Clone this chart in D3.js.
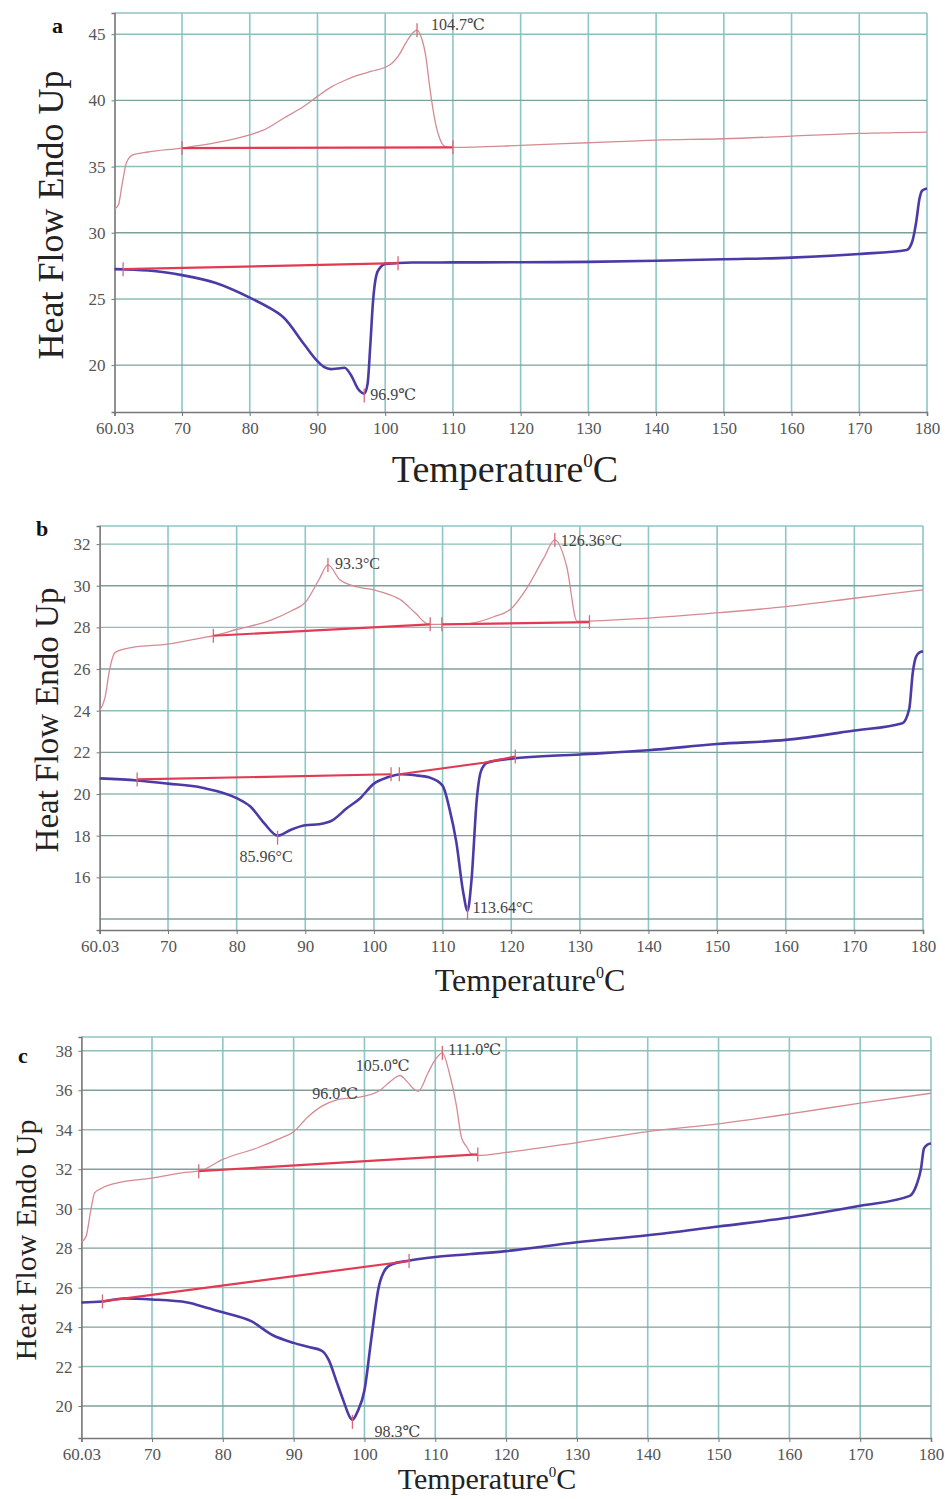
<!DOCTYPE html>
<html>
<head>
<meta charset="utf-8">
<script src="https://cdn.jsdelivr.net/npm/d3@7/dist/d3.min.js"></script>
<style>
  body { margin: 0; background: #fff; }
  svg text { font-family: "Liberation Serif", "DejaVu Serif", serif; }
</style>
</head>
<body>
<div id="chart"></div>
<script>
// x ticks shared by all three panels
var xTicks = [60.03, 70, 80, 90, 100, 110, 120, 130, 140, 150, 160, 170, 180];

// ---- panel a ----
var aTop = [[60.03,31.8],[60.6,32.1],[61.2,33.8],[61.8,35.3],[62.8,35.9],[65,36.1],[70,36.4],[75,36.8],[80,37.4],[82,37.75],
  [85,38.65],[88,39.55],[90,40.3],[92,41.0],[94,41.5],[96,41.9],[98,42.2],[100,42.5],[101,42.8],[102,43.4],[103,44.3],
  [104,45.05],[104.7,45.3],[105.3,44.8],[106,43.3],[106.5,41.3],[107,39.5],[107.5,38.1],[108,37.2],[108.6,36.6],[109.3,36.45],
  [110,36.45],[120,36.6],[130,36.8],[140,37.0],[150,37.1],[160,37.3],[170,37.5],[180,37.6]];
var aBottom = [[60.03,27.25],[65,27.15],[70,26.8],[75,26.2],[80,25.1],[83,24.3],[85,23.6],[88,21.6],[90,20.3],[91,19.85],
  [92,19.7],[93,19.75],[94,19.8],[95,19.2],[96,18.2],[96.9,17.85],[97.4,18.6],[97.8,21.5],[98.2,24.8],[98.7,26.8],[99.3,27.4],
  [100,27.65],[104,27.75],[110,27.76],[120,27.77],[130,27.8],[140,27.88],[150,28.0],[160,28.12],[170,28.4],[177,28.7],
  [177.8,29.3],[178.4,30.8],[178.9,32.6],[179.3,33.2],[180,33.35]];
var aBases = [[[70,36.4],[110,36.45]], [[61.3,27.25],[101.9,27.7]]];
var aMarks = [[70,36.4],[110,36.45],[104.7,45.3],[61.3,27.25],[101.9,27.7],[96.9,17.7]];
var aLabels = [["104.7℃",104.7,45.3],["96.9℃",96.9,17.85]];

// ---- panel b ----
var bTop = [[60.03,24.0],[60.8,24.6],[61.5,26.0],[62.3,26.8],[65,27.05],[70,27.2],[75,27.5],[76.6,27.6],[80,27.9],[85,28.35],
  [88,28.8],[90,29.2],[92,30.3],[93.3,31.0],[95,30.3],[97,30.0],[100,29.8],[102,29.6],[104,29.3],[106,28.7],[108,28.15],
  [110,28.15],[112.6,28.15],[117.4,28.5],[120,28.9],[122.3,29.9],[124.7,31.3],[126.36,32.2],[128.1,30.9],[129.6,28.3],
  [140,28.45],[150,28.7],[160,29.0],[170,29.4],[180,29.8]];
var bBottom = [[60.03,20.75],[65.5,20.65],[70,20.5],[75,20.3],[80,19.8],[82,19.4],[84,18.6],[86,18.0],[88,18.3],[90,18.5],
  [92,18.55],[94,18.75],[96,19.3],[98,19.8],[100,20.5],[102,20.8],[104,20.95],[106,20.9],[108,20.8],[110,20.4],[111,19.3],
  [112,17.7],[113,15.3],[113.64,14.4],[114.2,15.8],[115,19.8],[115.6,21.1],[116.5,21.5],[120,21.7],[130,21.9],[140,22.1],
  [150,22.4],[160,22.6],[170,23.05],[177,23.4],[178,24.1],[178.5,25.8],[179,26.6],[179.5,26.8],[180,26.85]];
var bBases = [[[76.6,27.6],[108.2,28.15]], [[109.9,28.15],[131.4,28.25]], [[65.5,20.7],[102.5,20.95]], [[103.7,20.95],[116,21.5],[120.6,21.8]]];
var bMarks = [[76.6,27.6],[108.2,28.15],[109.9,28.15],[131.4,28.25],[93.3,31.0],[126.36,32.2],
  [65.5,20.7],[102.5,20.95],[103.7,20.95],[120.6,21.8],[85.96,17.9],[113.64,14.3]];
var bLabels = [["93.3°C",93.3,31.0],["126.36°C",126.36,32.2],["85.96°C",85.96,17.9],["113.64°C",113.64,14.4]];

// ---- panel c ----
var cTop = [[60.03,28.3],[60.7,28.6],[61.3,29.8],[61.9,30.8],[62.7,31.0],[65,31.3],[70,31.55],[75,31.85],[76.6,31.9],
  [80,32.5],[85,33.1],[88,33.55],[90,33.9],[92,34.65],[94,35.2],[96,35.5],[100,35.7],[102,35.95],[104,36.55],[105,36.75],
  [106,36.45],[107,36.05],[107.6,35.95],[109,36.9],[110,37.55],[111,37.9],[112,36.85],[113,35.2],[113.7,33.6],[114.5,33.1],
  [115,32.8],[116,32.7],[120,32.85],[130,33.35],[140,33.9],[150,34.3],[160,34.8],[170,35.35],[180,35.85]];
var cBottom = [[60.03,25.25],[63,25.3],[66,25.45],[70,25.4],[75,25.25],[78,24.95],[80,24.75],[84,24.3],[87,23.6],[90,23.2],
  [92,23.0],[94,22.8],[95,22.3],[96,21.3],[97,20.3],[98,19.4],[98.3,19.3],[99,19.7],[100,20.8],[101,23.5],[102,26.0],
  [103,26.95],[104,27.2],[106,27.35],[110,27.55],[115,27.7],[120,27.85],[130,28.3],[140,28.65],[150,29.1],[160,29.55],
  [170,30.15],[177,30.65],[178,31.25],[178.6,32.05],[179,33.05],[179.5,33.25],[180,33.3]];
var cBases = [[[76.6,31.9],[116,32.75]], [[63,25.3],[106.3,27.35]]];
var cMarks = [[76.6,31.9],[116,32.75],[111,37.9],[63,25.3],[106.3,27.35],[98.3,19.2]];
var cLabels = [["96.0℃",96.0,35.5],["105.0℃",105.0,36.75],["111.0℃",111.0,37.9],["98.3℃",98.3,19.3]];

var panels = [
  {letter: "a", left: 114.5, right: 927, top: 13, bottom: 412, yDomain: [16.46, 46.6],
   yTicks: [20, 25, 30, 35, 40, 45], yGrid: [20, 25, 30, 35, 40, 45],
   topData: aTop, bottomData: aBottom, bases: aBases, marks: aMarks, labels: aLabels,
   labelOffsets: [[14, 0], [6, 6]],
   yTitle: {x: 50, y: 215, size: 36}, xTitle: {x: 505, y: 482, size: 38}, letterPos: [52, 33]},
  {letter: "b", left: 99.6, right: 923, top: 526, bottom: 930, yDomain: [13.47, 32.87],
   yTicks: [16, 18, 20, 22, 24, 26, 28, 30, 32], yGrid: [14, 16, 18, 20, 22, 24, 26, 28, 30, 32],
   topData: bTop, bottomData: bBottom, bases: bBases, marks: bMarks, labels: bLabels,
   labelOffsets: [[7, 4], [6, 6], [-38, 24], [5, 2]],
   yTitle: {x: 46, y: 720, size: 33}, xTitle: {x: 530, y: 991, size: 32}, letterPos: [36, 536]},
  {letter: "c", left: 81.4, right: 931, top: 1037, bottom: 1438, yDomain: [18.38, 38.7],
   yTicks: [20, 22, 24, 26, 28, 30, 32, 34, 36, 38], yGrid: [20, 22, 24, 26, 28, 30, 32, 34, 36, 38],
   topData: cTop, bottomData: cBottom, bases: cBases, marks: cMarks, labels: cLabels,
   labelOffsets: [[-24, -1], [-44, -4], [6, 2], [22, 17]],
   yTitle: {x: 25, y: 1240, size: 30}, xTitle: {x: 487, y: 1489, size: 30}, letterPos: [18, 1063]}
];

var svg = d3.select("#chart").append("svg")
    .attr("width", 945)
    .attr("height", 1499);

panels.forEach(function(p) {
    var x = d3.scaleLinear().domain([60.03, 180]).range([p.left, p.right]);
    var y = d3.scaleLinear().domain(p.yDomain).range([p.bottom, p.top]);
    var g = svg.append("g");

    // grid
    g.append("g").selectAll("line.vg")
        .data(xTicks.slice(1))
        .enter().append("line")
        .attr("x1", function(d) { return x(d); })
        .attr("x2", function(d) { return x(d); })
        .attr("y1", p.top).attr("y2", p.bottom)
        .style("stroke", "#8cc6c6").style("stroke-width", 1.6);
    g.append("g").selectAll("line.hg")
        .data(p.yGrid)
        .enter().append("line")
        .attr("x1", p.left).attr("x2", p.right)
        .attr("y1", function(d) { return y(d); })
        .attr("y2", function(d) { return y(d); })
        .style("stroke", function(d, i) { return i % 2 ? "#8fbdb8" : "#7f9f9c"; })
        .style("stroke-width", 1.4);
    // top border
    g.append("line")
        .attr("x1", p.left).attr("x2", p.right)
        .attr("y1", p.top).attr("y2", p.top)
        .style("stroke", "#8cc6c6").style("stroke-width", 1.4);

    // axes
    var xAxis = g.append("g")
        .attr("transform", "translate(0," + p.bottom + ")")
        .call(d3.axisBottom(x).tickValues(xTicks).tickSize(4)
            .tickFormat(function(d) { return d === 60.03 ? "60.03" : d; }));
    var yAxis = g.append("g")
        .attr("transform", "translate(" + p.left + ",0)")
        .call(d3.axisLeft(y).tickValues(p.yTicks).tickSize(3).tickPadding(6).tickFormat(d3.format("d")));
    [xAxis, yAxis].forEach(function(ax) {
        ax.select(".domain").style("stroke", "#777").style("stroke-width", 1.6);
        ax.selectAll(".tick line").style("stroke", "#777");
        ax.selectAll("text")
            .style("font-family", "Liberation Serif, serif")
            .style("font-size", "17px")
            .style("fill", "#555");
    });
    xAxis.selectAll("text").attr("dy", "0.9em");

    var line = d3.line()
        .x(function(d) { return x(d[0]); })
        .y(function(d) { return y(d[1]); })
        .curve(d3.curveMonotoneX);

    // upper (cooling / pink) curve
    g.append("path")
        .datum(p.topData)
        .attr("d", line)
        .style("fill", "none")
        .style("stroke", "#d68a92")
        .style("stroke-width", 1.3);

    // lower (heating / blue) curve
    g.append("path")
        .datum(p.bottomData)
        .attr("d", line)
        .style("fill", "none")
        .style("stroke", "#4c3aa6")
        .style("stroke-width", 2.6);

    // baselines
    g.selectAll("path.base")
        .data(p.bases)
        .enter().append("path")
        .attr("d", d3.line().x(function(d) { return x(d[0]); }).y(function(d) { return y(d[1]); }))
        .style("fill", "none")
        .style("stroke", "#e23a52")
        .style("stroke-width", 2.2);

    // small tick marks on the curves
    g.selectAll("line.mark")
        .data(p.marks)
        .enter().append("line")
        .attr("x1", function(d) { return x(d[0]); })
        .attr("x2", function(d) { return x(d[0]); })
        .attr("y1", function(d) { return y(d[1]) - 7; })
        .attr("y2", function(d) { return y(d[1]) + 7; })
        .style("stroke", "#d8677a")
        .style("stroke-width", 1.3);

    // peak labels
    g.selectAll("text.peak")
        .data(p.labels)
        .enter().append("text")
        .attr("x", function(d, i) { return x(d[1]) + p.labelOffsets[i][0]; })
        .attr("y", function(d, i) { return y(d[2]) + p.labelOffsets[i][1]; })
        .style("font-size", "16px")
        .style("fill", "#444")
        .text(function(d) { return d[0]; });

    // axis titles
    g.append("text")
        .attr("transform", "translate(" + p.yTitle.x + "," + p.yTitle.y + ") rotate(-90)")
        .attr("text-anchor", "middle")
        .attr("dy", "0.35em")
        .style("font-size", p.yTitle.size + "px")
        .style("fill", "#222")
        .text("Heat Flow Endo Up");

    var xt = g.append("text")
        .attr("x", p.xTitle.x)
        .attr("y", p.xTitle.y)
        .attr("text-anchor", "middle")
        .style("font-size", p.xTitle.size + "px")
        .style("fill", "#222");
    xt.append("tspan").text("Temperature");
    xt.append("tspan").attr("dy", -p.xTitle.size * 0.4).style("font-size", (p.xTitle.size * 0.5) + "px").text("0");
    xt.append("tspan").attr("dy", p.xTitle.size * 0.4).text("C");

    g.append("text")
        .attr("x", p.letterPos[0])
        .attr("y", p.letterPos[1])
        .style("font-size", "22px")
        .style("font-weight", "bold")
        .style("fill", "#111")
        .text(p.letter);
});
</script>
</body>
</html>
